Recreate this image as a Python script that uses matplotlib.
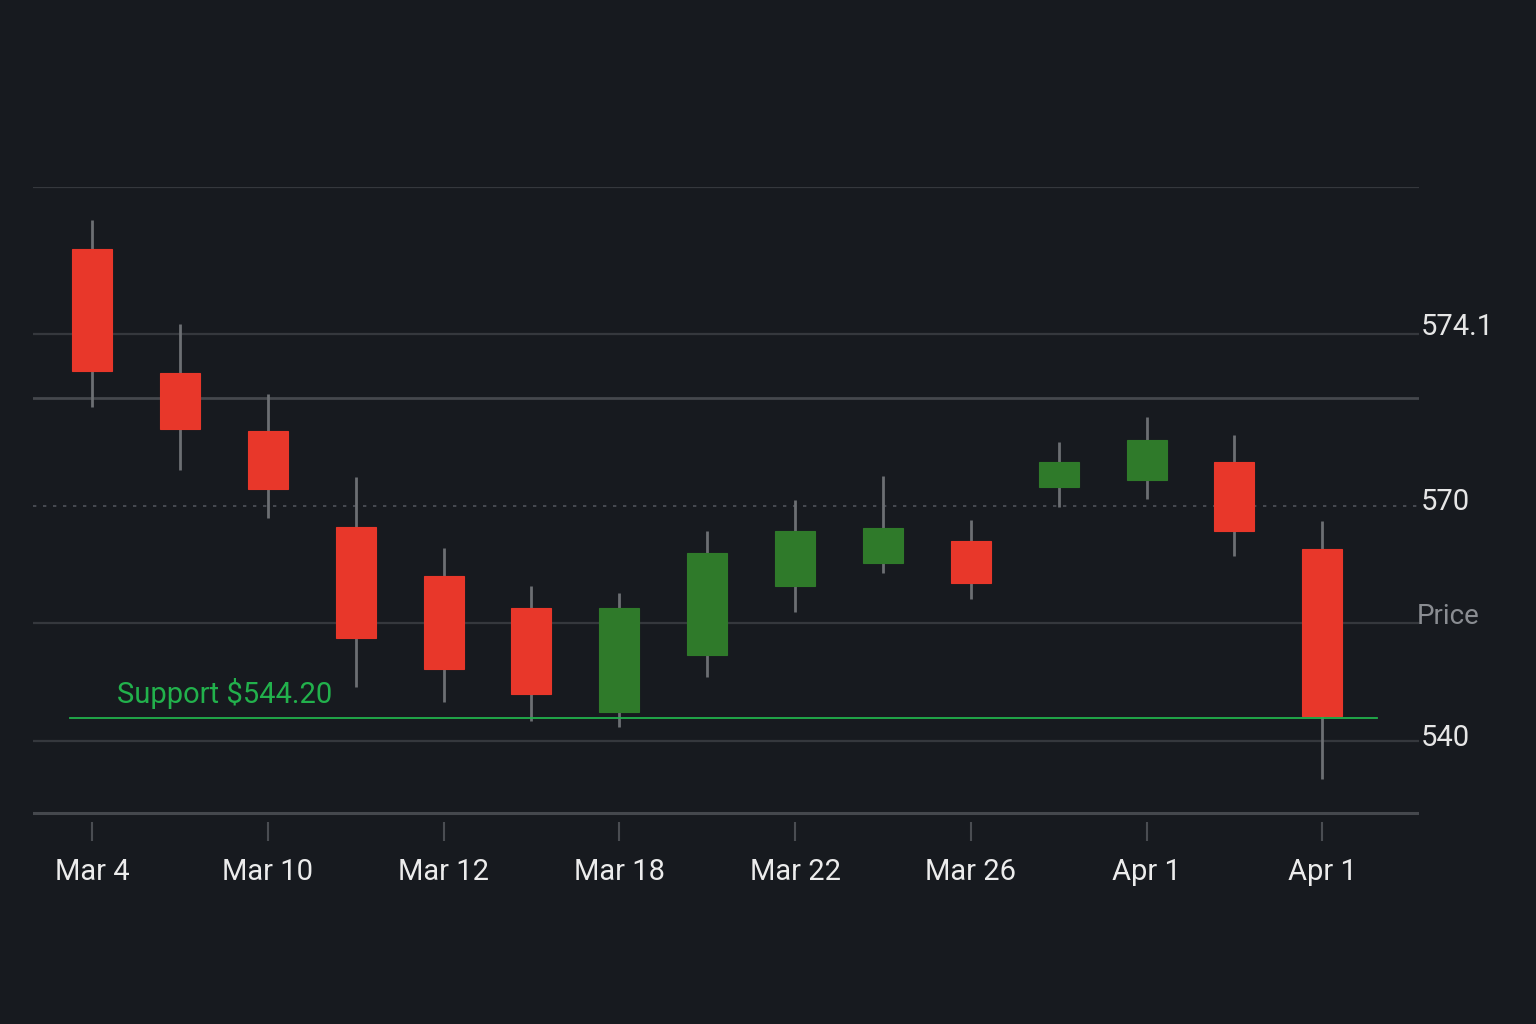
import matplotlib
matplotlib.use("Agg")
import matplotlib.pyplot as plt
import matplotlib.transforms as mtransforms
import numpy as np

# ---- data ----
opens  = [602.8, 586.9, 579.5, 567.3, 561.1, 557.0, 543.7, 551.0, 559.8, 562.7, 565.5, 572.4, 573.3, 575.6, 564.5]
highs  = [606.5, 593.2, 584.3, 573.7, 564.6, 559.8, 558.9, 566.8, 570.8, 573.8, 568.2, 578.2, 581.4, 579.1, 568.1]
lows   = [582.6, 574.6, 568.5, 546.9, 545.0, 542.6, 541.8, 548.2, 556.5, 561.5, 558.1, 569.9, 570.9, 563.6, 535.2]
closes = [587.2, 579.8, 572.2, 553.2, 549.2, 546.0, 557.0, 564.0, 566.8, 567.2, 560.2, 575.6, 578.4, 566.8, 543.2]

xtick_idx    = [0, 2, 4, 6, 8, 10, 12, 14]
xtick_labels = ["Mar 4", "Mar 10", "Mar 12", "Mar 18", "Mar 22", "Mar 26", "Apr 1", "Apr 1"]

grid_solid   = [610.7, 592.0, 555.1, 540.0]
grid_strong  = [583.8]
grid_dotted  = [570.0]
axis_line    = 530.8

ylabel_pos   = [592.0, 570.0, 555.1, 540.0]
ylabel_text  = ["574.1", "570", "Price", "540"]

support_value = 542.9
support_label = "Support $544.20"

# ---- style ----
BG = "#171a1f"
RED = "#e8372a"
GREEN = "#2f7a2a"
WICK = "#6c6f73"
GRID = "#35383d"
GRID2 = "#45484d"
SUP = "#22b14c"

plt.rcParams['font.family'] = ['Roboto', 'DejaVu Sans']

fig = plt.figure(figsize=(15.36, 10.24), dpi=100, facecolor=BG)
ax = fig.add_axes([33/1536, 1-822/1024, (1419-33)/1536, (822-187)/1024])
ax.set_facecolor(BG)

x = np.arange(len(opens))
ax.set_xlim(-0.672, 15.10)
ax.set_ylim(529.66, 610.7)

for v in grid_solid:
    ax.axhline(v, color=GRID, lw=1.6, zorder=1)
for v in grid_strong:
    ax.axhline(v, color=GRID2, lw=2.0, zorder=1)
for v in grid_dotted:
    ax.axhline(v, color="#50535a", lw=1.2, ls=(0, (2, 4)), zorder=1)
ax.axhline(axis_line, color=GRID2, lw=2.2, zorder=1)

width = 0.455
for i in x:
    o, h, l, c = opens[i], highs[i], lows[i], closes[i]
    col = GREEN if c >= o else RED
    ax.vlines(i, l, h, color=WICK, lw=2, zorder=2)
    ax.bar(i, abs(c - o), bottom=min(o, c), width=width, color=col,
           edgecolor=col, lw=0.8, zorder=3)

# support line
ax.plot([-0.25, 14.62], [support_value, support_value], color=SUP, lw=1.3, zorder=4)
ax.text(0.28, support_value + 1.2, support_label, color=SUP, fontsize=21,
        va='bottom', ha='left', zorder=5)

# right labels
trans = mtransforms.blended_transform_factory(ax.transAxes, ax.transData)
offsets = {"574.1": 7, "570": 4, "Price": 6, "540": 3}
for v, t in zip(ylabel_pos, ylabel_text):
    dy = offsets[t] / 100
    if t == "Price":
        ax.text(1.0, v, t, transform=trans + mtransforms.ScaledTranslation(-2/100, dy, fig.dpi_scale_trans),
                color="#8a8d92", fontsize=20, va='center', ha='left')
    else:
        ax.text(1.0, v, t, transform=trans + mtransforms.ScaledTranslation(2/100, dy, fig.dpi_scale_trans),
                color="#e6e6e6", fontsize=21, va='center', ha='left')

ax.set_xticks(xtick_idx)
ax.set_xticklabels(xtick_labels)
ax.tick_params(axis='x', length=14, width=1.5, color="#4a4d52", pad=12,
               labelcolor="#ececec", labelsize=21)
ax.set_yticks([])
for s in ax.spines.values():
    s.set_visible(False)

fig.savefig("out.png", dpi=100, facecolor=BG)
